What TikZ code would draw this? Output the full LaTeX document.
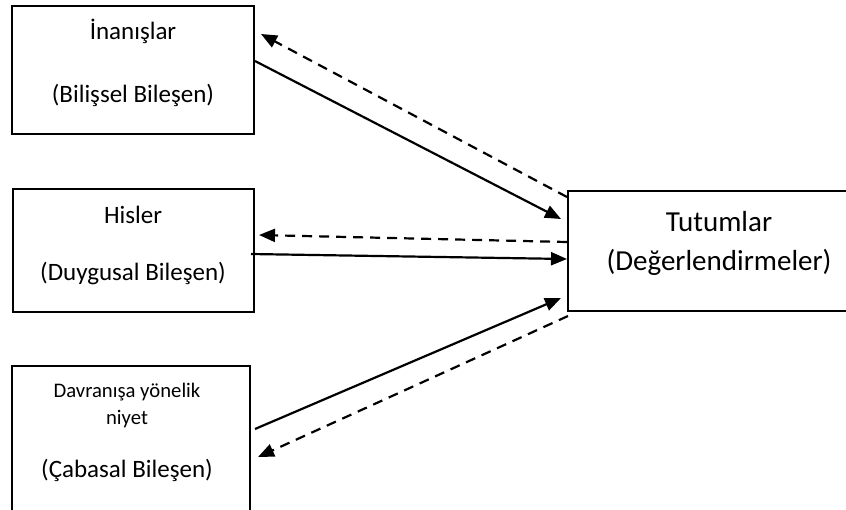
\documentclass[tikz,border=0pt]{standalone}
\usepackage{fontspec}
\setmainfont{Carlito}
\usetikzlibrary{arrows.meta}
\tikzset{
  box/.style={draw, line width=2pt, rectangle, inner sep=0pt},
  lbl/.style={anchor=base, inner sep=0pt, font=\fontsize{25}{30}\selectfont},
  lblbig/.style={anchor=base, inner sep=0pt, font=\fontsize{29}{35}\selectfont},
  lblsmall/.style={anchor=base, inner sep=0pt, font=\fontsize{20.7}{25}\selectfont},
  link/.style={line width=2.2pt, -{Triangle[length=16pt,width=13pt]}},
  back/.style={link, dash pattern=on 10pt off 7pt},
}
\begin{document}
\begin{tikzpicture}[x=1pt, y=-1pt]
\useasboundingbox (0,0) rectangle (846,509);
\clip (0,0) rectangle (846,509);

% component boxes
\node[box, minimum width=242pt, minimum height=128pt] (b1) at (133,70) {};
\node[box, minimum width=241pt, minimum height=123pt] (b2) at (133.5,250.5) {};
\node[box, minimum width=238pt, minimum height=164pt] (b3) at (131,448) {};
\node[box, minimum width=302pt, minimum height=120pt] (b4) at (719,251) {};

% box texts
\node[lbl] (t1a) at (133,39) {İnanışlar};
\node[lbl] (t1b) at (133,102) {(Bilişsel Bileşen)};
\node[lbl] (t2a) at (133,223) {Hisler};
\node[lbl] (t2b) at (133,280) {(Duygusal Bileşen)};
\node[lblsmall] (t3a) at (127,397) {Davranışa yönelik};
\node[lblsmall] (t3b) at (127,424) {niyet};
\node[lbl] (t3c) at (127,477) {(Çabasal Bileşen)};
\node[lblbig] (t4a) at (719,231) {Tutumlar};
\node[lblbig] (t4b) at (719,270) {(Değerlendirmeler)};

% influences towards the attitude
\draw[link] ([yshift=9pt]b1.east) -- ([xshift=-6pt,yshift=32pt]b4.west);
\draw[link] ([xshift=-4pt,yshift=-3.5pt]b2.east) -- ([yshift=-8pt]b4.west);
\draw[link] ([xshift=4pt,yshift=19pt]b3.east) -- ([xshift=-6pt,yshift=14pt]b4.south west);

% feedback from the attitude
\draw[back] ([yshift=-7pt]b4.north west) -- ([xshift=6pt,yshift=-29pt]b1.north east);
\draw[back] ([yshift=9pt]b4.west) -- ([xshift=4pt,yshift=15.5pt]b2.east);
\draw[back] ([xshift=1pt,yshift=-4pt]b4.south west) -- ([xshift=7pt,yshift=-9pt]b3.east);
\end{tikzpicture}
\end{document}
